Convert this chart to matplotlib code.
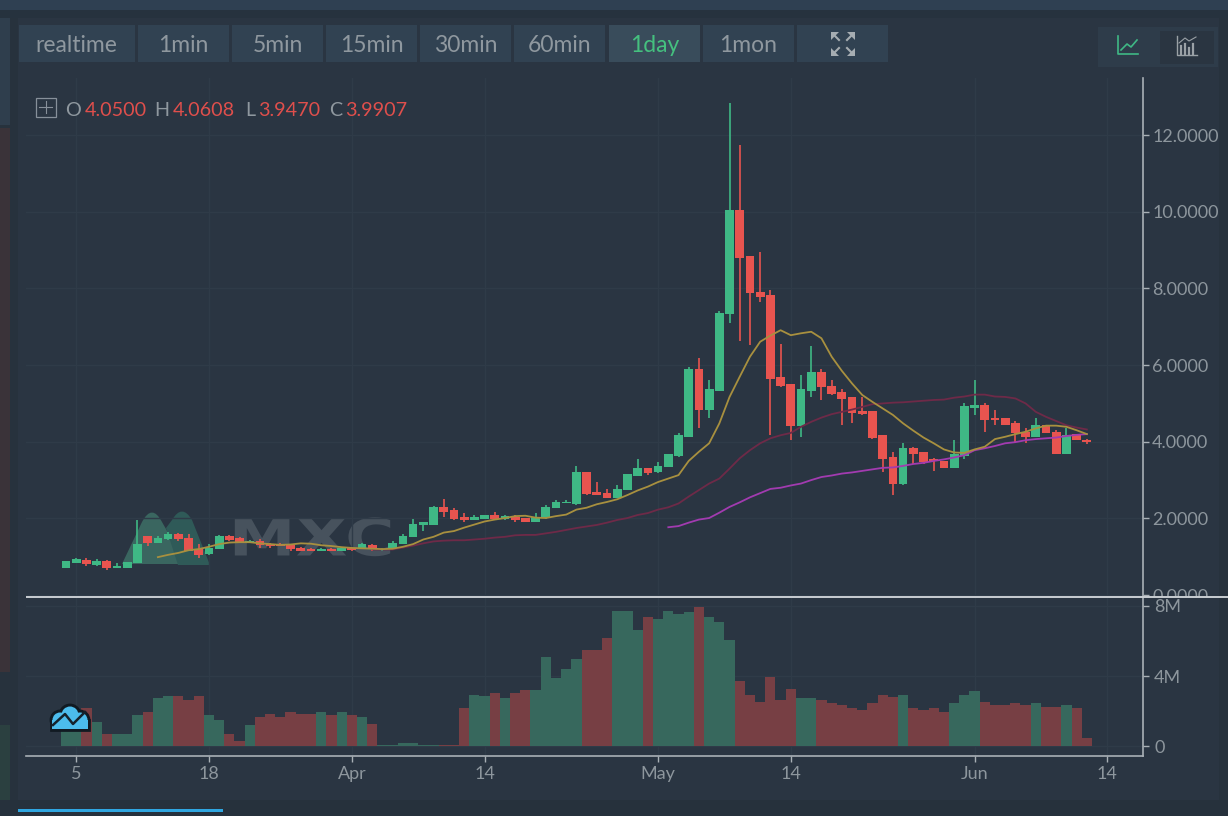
import numpy as np
import matplotlib
matplotlib.use("Agg")
import matplotlib.pyplot as plt
from matplotlib.patches import Rectangle, PathPatch, Circle, Polygon
from matplotlib.path import Path
from matplotlib.patheffects import AbstractPathEffect
from matplotlib.transforms import Bbox, TransformedBbox, Affine2D

plt.rcParams['font.family'] = ['Lato', 'DejaVu Sans']

opens = [.71,.84,.91,.78,.89,.71,.71,.83,1.54,1.37,1.47,1.59,1.50,1.19,1.07,1.21,1.54,1.50,1.37,1.42,
         1.34,1.33,1.30,1.23,1.20,1.16,1.19,1.16,1.22,1.20,1.31,1.18,1.20,1.34,1.52,1.83,1.84,2.30,2.22,2.03,
         1.96,1.99,2.09,1.98,2.05,2.00,1.91,2.00,2.27,2.40,2.38,3.20,2.70,2.66,2.53,2.75,3.10,3.32,3.20,3.33,
         3.63,4.13,5.91,4.84,5.33,7.33,10.04,8.84,7.91,7.83,5.70,5.50,4.41,5.33,5.81,5.46,5.29,5.16,4.80,4.80,
         4.17,3.60,2.89,3.83,3.72,3.54,3.50,3.32,3.63,4.89,4.97,4.62,4.62,4.49,4.26,4.12,4.43,4.26,3.69,4.20,4.05]
highs = [.89,.97,.96,.93,.91,.84,.87,1.96,1.54,1.54,1.64,1.63,1.59,1.33,1.33,1.56,1.56,1.52,1.45,1.47,
         1.37,1.35,1.33,1.26,1.23,1.23,1.22,1.26,1.23,1.37,1.33,1.23,1.42,1.60,1.99,1.91,2.32,2.50,2.26,2.13,
         2.08,2.10,2.17,2.10,2.08,2.02,2.13,2.35,2.48,2.48,3.38,3.20,2.94,2.76,2.88,3.16,3.55,3.32,3.47,3.68,
         4.22,5.96,6.19,5.61,7.42,12.84,11.74,8.84,8.94,7.96,6.54,5.50,5.74,6.50,5.90,5.61,5.37,5.16,5.16,4.80,
         4.17,3.72,3.96,3.87,3.72,3.58,3.50,4.04,5.02,5.61,5.02,4.84,4.62,4.53,4.35,4.62,4.43,4.30,4.36,4.20,4.0608]
lows = [.71,.83,.77,.76,.65,.71,.71,.83,1.29,1.37,1.45,1.41,1.16,.97,1.05,1.19,1.40,1.35,1.37,1.24,
        1.24,1.27,1.16,1.14,1.14,1.15,1.15,1.15,1.14,1.19,1.15,1.15,1.19,1.32,1.51,1.68,1.82,2.04,1.97,1.91,
        1.95,1.98,1.98,1.96,1.90,1.90,1.90,1.99,2.26,2.39,2.35,2.62,2.61,2.52,2.52,2.75,3.10,3.14,3.19,3.33,
        3.61,4.13,4.37,4.61,5.33,7.11,6.63,6.52,7.65,4.17,5.43,4.04,4.13,5.16,5.10,5.23,4.43,4.50,4.69,4.08,
        3.20,2.62,2.88,3.42,3.43,3.24,3.32,3.32,3.56,4.71,4.26,4.44,4.44,3.98,3.96,4.12,4.23,3.68,3.69,4.04,3.947]
closes = [.89,.94,.80,.89,.70,.76,.87,1.33,1.37,1.50,1.59,1.47,1.16,1.05,1.23,1.54,1.45,1.38,1.41,1.30,
          1.28,1.29,1.19,1.16,1.16,1.19,1.16,1.23,1.17,1.32,1.20,1.21,1.37,1.55,1.85,1.90,2.30,2.17,1.98,1.95,
          2.04,2.09,1.99,2.06,1.95,1.90,2.03,2.30,2.44,2.44,3.20,2.65,2.61,2.53,2.78,3.16,3.32,3.19,3.37,3.68,
          4.17,5.91,4.84,5.37,7.37,10.04,8.80,7.87,7.77,5.64,5.46,4.41,5.37,5.81,5.43,5.24,5.11,4.76,4.72,4.11,
          3.55,2.89,3.83,3.67,3.46,3.50,3.32,3.69,4.93,4.97,4.57,4.56,4.44,4.22,4.12,4.43,4.23,3.68,4.17,4.04,3.9907]
volumes = [1.0,1.0,2.17,1.37,.69,.69,.69,1.77,1.96,2.74,2.84,2.84,2.65,2.84,1.77,1.47,.69,.30,1.18,1.66,
           1.85,1.68,1.96,1.85,1.85,1.96,1.77,1.96,1.77,1.66,1.28,.08,.08,.17,.17,.08,.08,.08,.08,2.17,
           2.93,2.84,3.03,2.74,3.03,3.22,3.22,5.10,3.90,4.40,4.99,5.49,5.49,6.17,7.73,7.73,6.65,7.35,7.26,7.73,
           7.54,7.64,7.94,7.35,7.07,6.08,3.73,2.93,2.53,3.92,2.65,3.26,2.74,2.74,2.65,2.44,2.34,2.17,2.06,2.44,
           2.93,2.82,2.93,2.15,2.06,2.17,1.96,2.44,2.93,3.14,2.53,2.34,2.34,2.44,2.34,2.44,2.25,2.25,2.34,2.17,.48]

ma_gold_start = 9
ma_gold = [.99,1.05,1.10,1.17,1.20,1.26,1.33,1.37,1.38,1.38,1.35,1.33,1.31,1.32,1.35,1.34,1.30,1.28,1.25,1.23,
           1.22,1.21,1.20,1.21,1.26,1.33,1.45,1.52,1.63,1.67,1.76,1.84,1.92,1.97,2.01,2.06,2.07,2.02,2.01,2.06,
           2.10,2.23,2.28,2.37,2.43,2.50,2.61,2.73,2.83,2.95,3.04,3.13,3.50,3.74,3.96,4.48,5.17,5.70,6.22,6.61,
           6.77,6.91,6.78,6.83,6.87,6.70,6.22,5.85,5.52,5.22,5.04,4.87,4.70,4.48,4.29,4.11,3.96,3.80,3.72,3.71,
           3.80,3.87,4.07,4.13,4.20,4.26,4.35,4.42,4.42,4.39,4.30,4.20]
ma_maroon_start = 30
ma_maroon = [1.19,1.19,1.19,1.24,1.29,1.35,1.40,1.42,1.43,1.43,1.45,1.47,1.50,1.52,1.56,1.57,1.57,1.61,1.65,1.70,
             1.75,1.79,1.83,1.89,1.96,2.01,2.09,2.14,2.23,2.29,2.39,2.57,2.74,2.91,3.04,3.30,3.57,3.78,3.96,4.09,
             4.17,4.23,4.39,4.52,4.63,4.72,4.78,4.84,4.91,4.98,5.00,5.02,5.03,5.05,5.07,5.09,5.10,5.15,5.18,5.23,
             5.23,5.18,5.17,5.13,5.00,4.78,4.65,4.54,4.43,4.37,4.32]
ma_purple_start = 59
ma_purple = [1.77,1.80,1.89,1.97,2.01,2.15,2.30,2.42,2.55,2.66,2.77,2.80,2.86,2.91,3.00,3.08,3.12,3.17,3.20,3.24,
             3.28,3.32,3.33,3.37,3.42,3.45,3.50,3.54,3.59,3.65,3.78,3.83,3.89,3.96,3.99,4.04,4.07,4.09,4.11,4.15,
             4.18,4.20]

date_ticks = [1, 14, 28, 41, 58, 71, 89, 102]
date_labels = ['5', '18', 'Apr', '14', 'May', '14', 'Jun', '14']
price_ticks = [0, 2, 4, 6, 8, 10, 12]
price_labels = ['0.0000', '2.0000', '4.0000', '6.0000', '8.0000', '10.0000', '12.0000']
vol_ticks = [0, 4, 8]
vol_labels = ['0', '4M', '8M']
buttons = ['realtime', '1min', '5min', '15min', '30min', '60min', '1day', '1mon']
ohlc_names = ['O', 'H', 'L', 'C']
ohlc_values = ['4.0500', '4.0608', '3.9470', '3.9907']

BG = '#2a3542'; BTN = '#314252'; SEL = '#394c5b'
UP = '#3fb885'; DOWN = '#e8544f'; VUP = '#37685d'; VDOWN = '#773f44'
GRID = '#2f3b48'; AXIS = '#a9b0b6'; TXT = '#8f989f'; TICKTXT = '#8d969d'

W, H = 1228, 816
fig = plt.figure(figsize=(W / 100, H / 100), dpi=100, facecolor=BG)

def px_axes(l, t, r, b, **kw):
    return fig.add_axes([l / W, 1 - b / H, (r - l) / W, (b - t) / H], **kw)

class Stretch(AbstractPathEffect):
    """Widen a text's glyphs horizontally about a display x."""
    def __init__(self, sx, cx):
        super().__init__()
        self.sx, self.cx = sx, cx
    def draw_path(self, renderer, gc, tpath, affine, rgbFace=None):
        t = affine + Affine2D().translate(-self.cx, 0).scale(self.sx, 1).translate(self.cx, 0)
        renderer.draw_path(gc, tpath, t, rgbFace)

chrome = fig.add_axes([0, 0, 1, 1], zorder=0)
chrome.set_xlim(0, W); chrome.set_ylim(H, 0); chrome.axis('off')
def rect(a, x0, y0, x1, y1, c, **kw):
    a.add_patch(Rectangle((x0, y0), x1 - x0, y1 - y0, fc=c, ec='none', **kw))

rect(chrome, 0, 0, W, 10, '#2f4052')
rect(chrome, 0, 10, W, 18, '#26323e')
rect(chrome, 0, 18, 18, H, '#27323d')
rect(chrome, 0, 128, 10, 672, '#3a3339')
rect(chrome, 0, 725, 10, H, '#2b4040')
rect(chrome, 0, 18, 10, 125, '#2f3e4d')
rect(chrome, 1219, 18, W, H, '#27323d')
rect(chrome, 0, 800, W, H, '#26313c')
rect(chrome, 18, 809, 223, 812, '#2fa6e0')

btn_edges = [(19, 135), (138, 229), (232, 323), (326, 417), (420, 511), (514, 605), (609, 700), (703, 794), (797, 888)]
for k, (a, b) in enumerate(btn_edges):
    rect(chrome, a, 25, b, 62, SEL if k == 6 else BTN)
for k, name in enumerate(buttons):
    a, b = btn_edges[k]
    chrome.text((a + b) / 2 - (0 if k else 1), 45, name, color='#45c07f' if k == 6 else TXT,
                fontsize=16.5, ha='center', va='center')
for sx, sy in [(-1, -1), (1, -1), (-1, 1), (1, 1)]:
    cx, cy = 843 + sx * 8, 44 + sy * 8
    o_ = (cx + sx * 4, cy + sy * 4)
    chrome.add_patch(Polygon([o_, (o_[0] - sx * 8, o_[1]), (o_[0], o_[1] - sy * 8)], fc='#a6adb2', ec='none'))
    chrome.plot([cx, cx - sx * 4], [cy, cy - sy * 4], color='#a6adb2', lw=1.5)
rect(chrome, 1098, 27, 1218, 67, '#2e3c4a')
rect(chrome, 1160, 31, 1214, 64, '#2a3541')
chrome.plot([1118, 1118, 1138], [36, 54, 54], color=UP, lw=1.2)
chrome.plot([1121, 1127, 1131, 1137], [50, 44, 47, 40], color=UP, lw=1.2)
chrome.plot([1177, 1177, 1197], [36, 55, 55], color='#9aa1a6', lw=1.0)
for xb, tb in zip([1181, 1185, 1189, 1193], [46, 44, 48, 44]):
    chrome.plot([xb, xb], [tb, 54], color='#9aa1a6', lw=1.6)
chrome.plot([1179, 1185, 1189, 1196], [43, 38, 41, 37], color='#9aa1a6', lw=0.8)

# watermark
m3, l2, c3, cl = Path.MOVETO, Path.LINETO, Path.CURVE3, Path.CLOSEPOLY
left_peak = Path([(122, 564), (142, 522), (152, 503), (162, 522), (186, 564), (122, 564)], [m3, l2, c3, c3, l2, cl])
right_peak = Path([(166, 528), (172, 520), (182, 503), (192, 520), (210, 565), (178, 565), (166, 528)],
                  [m3, l2, c3, c3, l2, l2, cl])
chrome.add_patch(PathPatch(left_peak, fc='#3a6660', ec='none'))
chrome.add_patch(PathPatch(right_peak, fc='#2f5a58', ec='none'))
wm = chrome.text(311.5, 541.5, 'MXC', color='#47525d', fontsize=37, fontweight='bold', family='DejaVu Sans',
                 ha='center', va='center')
wm.set_path_effects([Stretch(1.31, 311.5)])

# price panel
ax = px_axes(26, 78, 1143, 597, zorder=1, facecolor='none')
xlim = (-3.92, 105.5)
ax.set_xlim(xlim); ax.set_ylim(-0.05, 13.49)
idx = np.arange(len(opens))
o, h, l, c = map(np.array, (opens, highs, lows, closes))
colors = np.where(c >= o, UP, DOWN)
ax.vlines(idx, l, h, colors=colors, lw=1.2, zorder=3)
ax.bar(idx, np.maximum(np.abs(c - o), 0.03), bottom=np.minimum(o, c), width=0.86, color=colors, lw=0, zorder=3)
ax.plot(ma_maroon_start + np.arange(len(ma_maroon)), ma_maroon, color='#6e2a48', lw=1.3, zorder=4)
ax.plot(ma_purple_start + np.arange(len(ma_purple)), ma_purple, color='#a23bb0', lw=1.3, zorder=4)
ax.plot(ma_gold_start + np.arange(len(ma_gold)), ma_gold, color='#a8903f', lw=1.3, zorder=4)
ax.set_yticks(price_ticks, price_labels)
ax.set_xticks(date_ticks)
ax.yaxis.tick_right()
ax.tick_params(axis='y', colors=AXIS, labelcolor=TICKTXT, labelsize=13, length=4, width=1, pad=2.5)
ax.tick_params(axis='x', length=0, labelbottom=False)
ax.grid(True, color=GRID, lw=1); ax.set_axisbelow(True)
for s in ['top', 'left', 'bottom']:
    ax.spines[s].set_visible(False)
ax.spines['right'].set_color(AXIS); ax.spines['right'].set_linewidth(1.2)

# volume panel
vx = px_axes(26, 598, 1143, 756, zorder=1, facecolor='none')
vx.set_xlim(xlim); vx.set_ylim(-0.571, 8.457)
vcol = np.where(c >= o, VUP, VDOWN)
vx.bar(idx, volumes, width=1.0, color=vcol, lw=0, zorder=3)
vx.set_yticks(vol_ticks, vol_labels)
vx.set_xticks(date_ticks, date_labels)
vx.yaxis.tick_right()
vx.tick_params(axis='y', colors=AXIS, labelcolor=TICKTXT, labelsize=13, length=4, width=1, pad=4)
vx.tick_params(axis='x', colors=AXIS, labelcolor=TICKTXT, labelsize=13, length=4.5, width=1, pad=2.5)
vx.grid(True, color=GRID, lw=1); vx.set_axisbelow(True)
for s in ['top', 'left']:
    vx.spines[s].set_visible(False)
for s in ['right', 'bottom']:
    vx.spines[s].set_color(AXIS); vx.spines[s].set_linewidth(1.2)

# overlay
top = fig.add_axes([0, 0, 1, 1], zorder=5, facecolor='none')
top.set_xlim(0, W); top.set_ylim(H, 0); top.axis('off')
top.plot([26, W], [597, 597], color='#c9ced2', lw=1.4, solid_capstyle='butt')

top.add_patch(Rectangle((35.5, 97.5), 20, 19, fc='none', ec='#87909a', lw=0.9))
top.plot([45.5, 45.5], [101, 113], color='#87909a', lw=0.8)
top.plot([39, 52], [107, 107], color='#87909a', lw=0.8)
for name, nx, val, vxp in zip(ohlc_names, [73, 162, 250, 336], ohlc_values, [115.5, 203.5, 289.5, 376.5]):
    top.text(nx, 110.5, name, color=TXT, fontsize=14.2, ha='center', va='center')
    top.text(vxp, 110.5, val, color='#df4f4c', fontsize=14.2, ha='center', va='center')

for (cx, cy, r) in [(60, 720, 9), (70, 715, 10), (80, 720, 9)]:
    top.add_patch(Circle((cx, cy), r, fc='#111a22', ec='#111a22', lw=2, zorder=6))
top.add_patch(Rectangle((51, 720), 38, 9.5, fc='#111a22', ec='#111a22', lw=2, zorder=6))
for (cx, cy, r) in [(60, 720, 7.5), (70, 715, 8.5), (80, 720, 7.5)]:
    top.add_patch(Circle((cx, cy), r, fc='#4cbcec', ec='none', zorder=7))
top.add_patch(Rectangle((52, 720), 36, 8.5, fc='#4cbcec', ec='none', zorder=7))
top.plot([53, 65, 73, 85], [725, 714, 724, 712], color='#15222c', lw=1.8, zorder=8)

fig.canvas.draw()
lab = ax.yaxis.get_major_ticks()[0].label2
lab.set_clip_box(TransformedBbox(Bbox([[0, 1 - 597 / H], [1, 1]]), fig.transFigure))
lab.set_clip_on(True)

fig.savefig('out.png', dpi=100, facecolor=BG)
